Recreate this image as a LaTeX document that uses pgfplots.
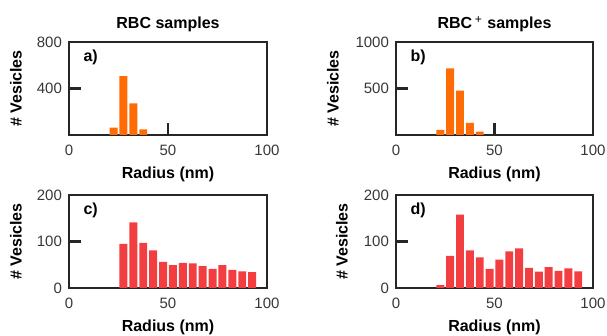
\documentclass[border=0pt]{standalone}
\usepackage{fontspec}
\setmainfont{Liberation Sans}
\usepackage{pgfplots}
\pgfplotsset{compat=1.18}
\definecolor{barorange}{RGB}{255,108,5}
\definecolor{barred}{RGB}{242,62,64}
\definecolor{tickgray}{RGB}{55,55,55}
\tikzset{panel/.style={anchor=west, font=\fontsize{8}{9}\selectfont\bfseries}}
\pgfplotsset{
  hist/.style={
    scale only axis, width=99pt, height=46.5pt,
    xmin=0, xmax=100, ymin=0,
    xtick={0,50,100},
    xtick pos=bottom, ytick pos=left,
    tick align=inside,
    major tick length=6pt,
    tick style={line width=1.1pt, black!85},
    axis line style={line width=0.7pt, black!85},
    /pgf/number format/assume math mode=true,
    /pgf/number format/1000 sep={},
    ticklabel style={font=\fontsize{7.5}{8}\selectfont, text=tickgray},
    xticklabel style={anchor=base, yshift=-10.5pt},
    xlabel={\textbf{Radius (nm)}},
    ylabel={\textbf{\# Vesicles}},
    label style={font=\fontsize{8}{9}\selectfont},
    xlabel style={at={(axis description cs:0.5,0)}, anchor=base, yshift=-21.8pt},
    title style={font=\fontsize{8}{9}\selectfont\bfseries, at={(axis description cs:0.5,1)}, anchor=base, yshift=0.5pt},
    clip=false,
  },
  hidefifty/.style={xtick={0,100}, extra x ticks={50},
    extra x tick style={major tick length=0pt, tick style={draw=none}}},
  hbar/.style={ybar, bar width=4, bar shift=0pt, draw=none},
}
\begin{document}
\begin{tikzpicture}
\useasboundingbox (0,0) rectangle (303.5pt,168pt);
% a)
\begin{axis}[hist, at={(34.5pt,100.5pt)}, anchor=south west,
  ymax=800, ytick={400,800},
  title={RBC samples},
  ylabel style={at={(axis description cs:0,0.5)}, anchor=center, yshift=26.5pt}]
\addplot[hbar, fill=barorange] coordinates {(22.5,63) (27.5,506) (32.5,273) (37.5,49)};
\node[panel] at (axis description cs:0.038,0.84) {a)};
\end{axis}
% b)
\begin{axis}[hist, at={(198pt,100.5pt)}, anchor=south west, width=98.5pt,
  ymax=1000, ytick={500,1000},
  title={RBC\,\textsuperscript{\normalfont +}\ samples},
  ylabel style={at={(axis description cs:0,0.5)}, anchor=center, yshift=31.5pt}]
\addplot[hbar, fill=barorange] coordinates {(22.5,54) (27.5,716) (32.5,478) (37.5,130) (42.5,36)};
\node[panel] at (axis description cs:0.038,0.84) {b)};
\end{axis}
% c)
\begin{axis}[hist, hidefifty, at={(34.5pt,24pt)}, anchor=south west,
  ymax=200, ytick={0,100,200},
  ylabel style={at={(axis description cs:0,0.5)}, anchor=center, yshift=26.5pt}]
\addplot[hbar, fill=barred] coordinates {(27.5,95) (32.5,141) (37.5,97) (42.5,81) (47.5,56) (52.5,49) (57.5,54) (62.5,53) (67.5,47) (72.5,41) (77.5,49) (82.5,39) (87.5,36) (92.5,34)};
\node[panel] at (axis description cs:0.038,0.84) {c)};
\end{axis}
% d)
\begin{axis}[hist, hidefifty, at={(198pt,24pt)}, anchor=south west, width=98.5pt,
  ymax=200, ytick={0,100,200},
  ylabel style={at={(axis description cs:0,0.5)}, anchor=center, yshift=27pt}]
\addplot[hbar, fill=barred] coordinates {(22.5,6) (27.5,69) (32.5,158) (37.5,81) (42.5,66) (47.5,41) (52.5,61) (57.5,79) (62.5,85) (67.5,43) (72.5,35) (77.5,45) (82.5,37) (87.5,42) (92.5,36)};
\node[panel] at (axis description cs:0.038,0.84) {d)};
\end{axis}
\end{tikzpicture}
\end{document}
